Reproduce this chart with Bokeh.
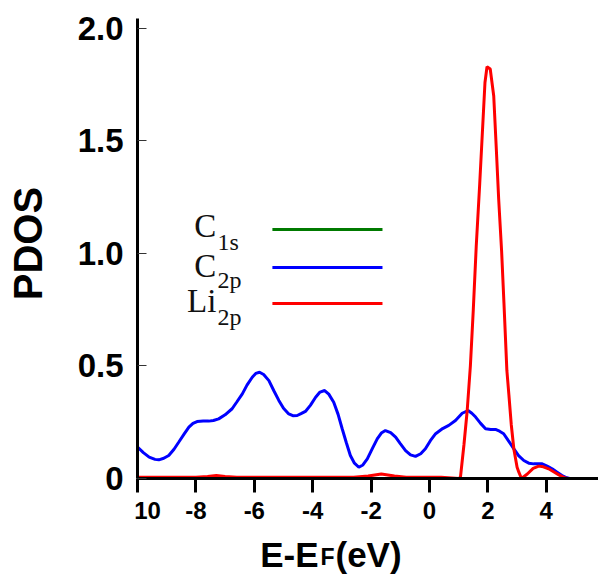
import math
from bokeh.plotting import figure
from bokeh.models import Range1d, FixedTicker, Label
from bokeh.embed import file_html
from bokeh.resources import INLINE

# ---------------- data ----------------
energy_c2p = [-10.0, -9.8, -9.6, -9.4, -9.27, -9.1, -8.93, -8.75, -8.59, -8.4, -8.24, -8.1,
              -7.96, -7.75, -7.56, -7.4, -7.22, -7.0, -6.76, -6.6, -6.41, -6.25, -6.07, -5.95,
              -5.82, -5.68, -5.5, -5.33, -5.16, -5.0, -4.82, -4.68, -4.53, -4.4, -4.25, -4.08,
              -3.9, -3.75, -3.59, -3.45, -3.28, -3.13, -2.99, -2.85, -2.71, -2.57, -2.42, -2.28,
              -2.13, -1.95, -1.79, -1.65, -1.51, -1.33, -1.16, -1.0, -0.82, -0.65, -0.48, -0.3,
              -0.14, 0.03, 0.21, 0.45, 0.66, 0.89, 1.12, 1.32, 1.45, 1.58, 1.75, 1.92, 2.1,
              2.26, 2.4, 2.54, 2.7, 2.89, 3.05, 3.23, 3.4, 3.57, 3.72, 3.86, 4.03, 4.2, 4.37,
              4.54, 4.7, 4.8, 5.8]
pdos_c2p = [0.14, 0.115, 0.095, 0.085, 0.083, 0.09, 0.102, 0.13, 0.161, 0.198, 0.228, 0.245,
            0.253, 0.255, 0.255, 0.258, 0.265, 0.283, 0.31, 0.34, 0.376, 0.415, 0.45, 0.467,
            0.472, 0.462, 0.435, 0.39, 0.347, 0.312, 0.287, 0.279, 0.28, 0.288, 0.298, 0.325,
            0.361, 0.384, 0.391, 0.375, 0.339, 0.285, 0.221, 0.16, 0.102, 0.068, 0.05, 0.06,
            0.087, 0.135, 0.176, 0.202, 0.213, 0.204, 0.184, 0.155, 0.124, 0.105, 0.098, 0.11,
            0.132, 0.168, 0.199, 0.222, 0.236, 0.258, 0.29, 0.302, 0.29, 0.273, 0.245, 0.221, 0.218,
            0.218, 0.21, 0.199, 0.168, 0.132, 0.102, 0.08, 0.068, 0.065, 0.066, 0.065, 0.055, 0.043, 0.028,
            0.013, 0.003, 0.0, 0.0]

energy_li2p = [-10.0, -8.0, -7.6, -7.3, -7.0, -6.6, -5.0, -4.0, -2.6, -2.1, -1.65, -1.2, -0.8,
               0.4, 1.0, 1.06, 1.18, 1.29, 1.4, 1.5, 1.6, 1.72, 1.84, 1.9, 1.97, 2.08, 2.2, 2.29,
               2.37, 2.47, 2.55, 2.65, 2.72, 2.8, 2.89, 3.0, 3.06, 3.15, 3.35, 3.55, 3.74, 3.9,
               4.08, 4.25, 4.43, 4.6, 4.72, 5.8]
pdos_li2p = [0.006, 0.006, 0.009, 0.013, 0.009, 0.006, 0.006, 0.006, 0.006, 0.011, 0.02, 0.011, 0.006,
             0.005, 0.0, 0.005, 0.15, 0.30, 0.50, 0.75, 1.03, 1.31, 1.61, 1.76, 1.83, 1.82, 1.70, 1.46,
             1.24, 1.01, 0.78, 0.48, 0.37, 0.24, 0.13, 0.05, 0.028, 0.0, 0.02, 0.045, 0.055, 0.052,
             0.043, 0.03, 0.016, 0.005, 0.0, 0.0]

energy_c1s = [-10.0, 5.8]
pdos_c1s = [0.0, 0.0]

x_ticks = [-10, -8, -6, -4, -2, 0, 2, 4]
x_tick_labels = ["\u00a0\u00a0\u00a010", "-8", "-6", "-4", "-2", "0", "2", "4"]
y_ticks = [0, 0.5, 1.0, 1.5, 2.0]
y_tick_labels = ["0", "0.5", "1.0", "1.5", "2.0"]

legend_main = ["C", "C", "Li"]
legend_sub = ["1s", "2p", "2p"]
legend_colors = ["#007a00", "#0000ff", "#ff0000"]

# layout constants (positions, in data units)
X_LEFT, X_RIGHT = -14.692, 5.788
Y_BOTTOM, Y_TOP = -0.4267, 2.1244
AXIS_X0, AXIS_Y1 = -10, 2.044
legend_line_x = (-5.38, -1.61)
legend_line_y = [1.107, 0.938, 0.778]
legend_text_x = -7.30
legend_main_y = [1.12, 0.944, 0.787]
legend_sub_y = [1.051, 0.88, 0.716]
xtitle_y = -0.340
ytitle_x, ytitle_y = -13.76, 1.044

# ---------------- figure ----------------
p = figure(width=598, height=574, output_backend="svg", toolbar_location=None,
           x_range=Range1d(X_LEFT, X_RIGHT), y_range=Range1d(Y_BOTTOM, Y_TOP),
           min_border_left=0, min_border_right=0, min_border_top=0, min_border_bottom=0)
p.outline_line_color = None
p.xgrid.grid_line_color = None
p.ygrid.grid_line_color = None

# curves
p.line(energy_c1s, pdos_c1s, color=legend_colors[0], line_width=3)
p.line(energy_c2p, pdos_c2p, color=legend_colors[1], line_width=3)
p.line(energy_li2p, pdos_li2p, color=legend_colors[2], line_width=3)

# axes
xa = p.xaxis[0]
xa.fixed_location = 0
xa.bounds = (AXIS_X0, X_RIGHT)
xa.ticker = FixedTicker(ticks=x_ticks)
xa.major_label_overrides = {t: s for t, s in zip(x_ticks, x_tick_labels)}
xa.axis_line_width = 3
xa.axis_line_color = "black"
xa.major_tick_line_width = 3
xa.major_tick_line_color = "black"
xa.major_tick_out = 14
xa.major_tick_in = 0
xa.minor_tick_line_color = None
xa.major_label_text_font = "Liberation Sans"
xa.major_label_text_font_style = "bold"
xa.major_label_text_font_size = "24px"
xa.major_label_text_color = "black"
xa.major_label_standoff = 5

ya = p.yaxis[0]
ya.fixed_location = AXIS_X0
ya.bounds = (0, AXIS_Y1)
ya.ticker = FixedTicker(ticks=y_ticks)
ya.major_label_overrides = {t: s for t, s in zip(y_ticks, y_tick_labels)}
ya.axis_line_width = 3
ya.axis_line_color = "black"
ya.major_tick_line_width = 1
ya.major_tick_line_color = "#333333"
ya.major_tick_out = 0
ya.major_tick_in = 9
ya.minor_tick_line_color = None
ya.major_label_text_font = "Liberation Sans"
ya.major_label_text_font_style = "bold"
ya.major_label_text_font_size = "33px"
ya.major_label_text_color = "black"
ya.major_label_standoff = 14

# y-axis title
p.add_layout(Label(x=ytitle_x, y=ytitle_y, text="PDOS", angle=math.pi / 2,
                   text_font="Liberation Sans", text_font_style="bold", text_font_size="40px",
                   text_align="center", text_baseline="middle", text_color="black"))

# x-axis title: E-E_F(eV) with a smaller F
for txt, xs, ys, size, align in [("E-E", -3.80, xtitle_y, "35px", "right"),
                                 ("F", -3.73, xtitle_y - 0.011, "23px", "left"),
                                 ("(eV)", -3.22, xtitle_y, "35px", "left")]:
    p.add_layout(Label(x=xs, y=ys, text=txt,
                       text_font="Liberation Sans", text_font_style="bold", text_font_size=size,
                       text_align=align, text_baseline="middle", text_color="black"))

# legend (labels to the left of the line samples)
for name, sub, col, ly, my, sy in zip(legend_main, legend_sub, legend_colors,
                                      legend_line_y, legend_main_y, legend_sub_y):
    p.segment(x0=[legend_line_x[0]], y0=[ly], x1=[legend_line_x[1]], y1=[ly],
              line_color=col, line_width=3)
    p.add_layout(Label(x=legend_text_x, y=my, text=name,
                       text_font="Liberation Serif", text_font_size="33px",
                       text_align="right", text_baseline="middle", text_color="#111111"))
    p.add_layout(Label(x=legend_text_x + 0.04, y=sy, text=sub,
                       text_font="Liberation Serif", text_font_size="24px",
                       text_align="left", text_baseline="middle", text_color="#111111"))

open("out.html", "w").write(file_html(p, INLINE))
